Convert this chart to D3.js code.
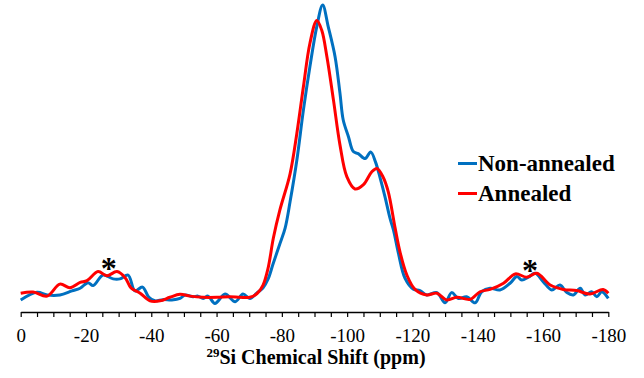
<!DOCTYPE html>
<html>
<head>
<meta charset="utf-8">
<script src="https://cdn.jsdelivr.net/npm/d3@7"></script>
<style>
  body { margin: 0; background: #fff; }
  text { font-family: "Liberation Serif", "Times New Roman", serif; }
</style>
</head>
<body>
<div id="chart"></div>
<script>
// 29Si NMR spectra, chemical shift (ppm) vs relative intensity (% of max)
var blueShift = [0, -5, -8.1, -12, -15.7, -18.2, -20.6, -22.2, -25.2, -28.3, -30.4, -32.9, -35, -37.3, -39.2,
  -41.1, -43.6, -46.3, -48.8, -50.3, -52.8, -54.3, -55.9, -57.4, -59.5, -62.6, -65.7, -68.1, -70.2, -72.3,
  -74.2, -75.8, -77.3, -79.4, -81, -82.5, -84.6, -86.6, -88.6, -90.7, -92.5, -94.2, -96.3, -97.8, -98.8,
  -100.4, -101.9, -103.4, -105.5, -107.2, -108.7, -110.1, -111.6, -113.1, -114.2, -115.7, -117.7, -120.3,
  -122.3, -124.4, -127.5, -130, -132, -134.1, -136.6, -139.2, -141.2, -143.8, -146.8, -149.9, -152, -153.5,
  -155.5, -157.6, -160.1, -162.7, -165.2, -167.3, -169.3, -171.4, -172.9, -174.9, -176.5, -178, -180];
var blueInt = [-1.0, 1.6, 0.7, 0.7, 2.1, 3.0, 4.9, 3.9, 7.5, 6.2, 6.2, 7.5, 2.1, 3.4, 0,
  -1.3, -0.9, -1.0, -0.5, 0.7, 0.1, 0.3, -0.5, 0.3, -2.2, 1.0, -1.6, 1.0, -0.5, 1.3,
  3.1, 6.2, 11.3, 18.2, 23.6, 32.5, 46.9, 64.0, 78.9, 92.6, 100, 92.6, 82.3, 69.8, 60.6,
  54.9, 49.8, 49.1, 47.4, 49.7, 46.2, 40.8, 34.3, 27.1, 22.9, 15.0, 6.5, 2.7,
  2.2, 0.7, 1.5, -2.0, 1.5, -0.5, 0.1, -2.0, 1.8, 3.0, 2.4, 4.7, 7.0, 5.8,
  6.8, 8.1, 5.2, 2.4, 4.1, 1.5, 0.7, 3.0, 0.7, 1.8, 0.1, 1.8, -0.5];

var redShift = [0, -3.8, -8.1, -12, -15.1, -18.2, -20.3, -23.7, -26.4, -29.5, -32, -33.8, -36.6, -39.6,
  -42.7, -45.7, -48.8, -51.9, -55.9, -60.1, -64.1, -67.2, -70.2, -72.4, -74.2, -75.8, -77.4, -79.4, -82.5,
  -84.6, -86.6, -88.6, -90.7, -92.2, -93.8, -95.8, -97.8, -99.9, -102.4, -105, -107.5, -109.1, -111,
  -112.6, -114.7, -116.2, -118.3, -120.8, -124.4, -127.5, -130.5, -133.6, -137.7, -140.7, -143.8, -147.9,
  -151.5, -155, -158.1, -162.2, -166.2, -170.3, -174.4, -178.4, -180];
var redInt = [1.3, 1.7, 0.3, 4.4, 3.2, 5.0, 5.6, 8.7, 7.3, 8.7, 6.6, 3.1, 1.3, -1.3,
  -1.3, -0.1, 0.9, 0.3, -0.1, -0.1, 0.1, -0.1, -0.1, 1.2, 4.0, 10.0, 20.2, 29.8, 42.1,
  56.1, 72.0, 86.9, 94.7, 91.4, 82.3, 67.5, 52.1, 41.2, 37.0, 38.5, 42.8, 44.0, 41.1,
  36.0, 23.6, 15.4, 7.5, 2.6, 0.7, 1.3, -1.0, -0.1, -0.8, 1.8, 2.6, 4.7,
  7.9, 6.8, 8.1, 4.1, 2.6, 2.2, 1.0, 2.6, 1.3];

var seriesNames = ["Non-annealed", "Annealed"];
var seriesColors = ["#0070C0", "#FF0000"];
var majorTicks = [0, -20, -40, -60, -80, -100, -120, -140, -160, -180];
var markShift = [-27, -156];   // spinning sidebands (*)
var markInt = [11.5, 10.8];

var W = 644, H = 378;

var svg = d3.select("#chart").append("svg")
  .attr("width", W)
  .attr("height", H);

var x = d3.scaleLinear().domain([0, -180]).range([20.7, 608.3]);
var y = d3.scaleLinear().domain([0, 100]).range([297, 5]);

// axis
var axis = svg.append("g")
  .attr("transform", "translate(0,312)")
  .call(d3.axisBottom(x)
    .tickValues(d3.range(0, -181, -5))
    .tickSize(5)
    .tickSizeOuter(0)
    .tickFormat(function(d) { return majorTicks.indexOf(d) >= 0 ? d : ""; }));
axis.attr("font-family", "Liberation Serif");
axis.select(".domain").attr("stroke", "#000").attr("stroke-width", 1.3);
axis.selectAll(".tick line").attr("stroke", "#000").attr("stroke-width", 1.2);
axis.selectAll(".tick text")
  .attr("y", 30)
  .attr("dy", 0)
  .attr("fill", "#000")
  .style("font-family", "Liberation Serif")
  .style("font-size", "19px");

// axis title
var title = svg.append("text")
  .attr("x", 316)
  .attr("y", 364)
  .attr("text-anchor", "middle")
  .style("font-size", "20px")
  .style("font-weight", "bold");
title.append("tspan").attr("font-size", "13px").attr("dy", -7).text("29");
title.append("tspan").attr("dy", 7).text("Si Chemical Shift (ppm)");

// spectra
var line = d3.line()
  .x(function(d) { return x(d[0]); })
  .y(function(d) { return y(d[1]); })
  .curve(d3.curveCatmullRom.alpha(0.5));

var blueData = d3.zip(blueShift, blueInt);
var redData = d3.zip(redShift, redInt);

svg.append("path")
  .datum(blueData)
  .attr("fill", "none")
  .attr("stroke", seriesColors[0])
  .attr("stroke-width", 3)
  .attr("d", line);

svg.append("path")
  .datum(redData)
  .attr("fill", "none")
  .attr("stroke", seriesColors[1])
  .attr("stroke-width", 3)
  .attr("d", line);

// asterisks
svg.selectAll(".star")
  .data(markShift)
  .enter().append("text")
  .attr("class", "star")
  .attr("x", function(d) { return x(d); })
  .attr("y", function(d, i) { return y(markInt[i]) + 16; })
  .attr("text-anchor", "middle")
  .style("font-size", "32px")
  .style("font-weight", "bold")
  .text("*");

// legend
var leg = svg.selectAll(".leg")
  .data(seriesNames)
  .enter().append("g")
  .attr("class", "leg")
  .attr("transform", function(d, i) { return "translate(458," + (163.5 + i * 30) + ")"; });
leg.append("line")
  .attr("x1", 0).attr("x2", 19)
  .attr("stroke", function(d, i) { return seriesColors[i]; })
  .attr("stroke-width", 3);
leg.append("text")
  .attr("x", 20)
  .attr("y", 7)
  .style("font-size", "23px")
  .style("font-weight", "bold")
  .text(function(d) { return d; });
</script>
</body>
</html>
